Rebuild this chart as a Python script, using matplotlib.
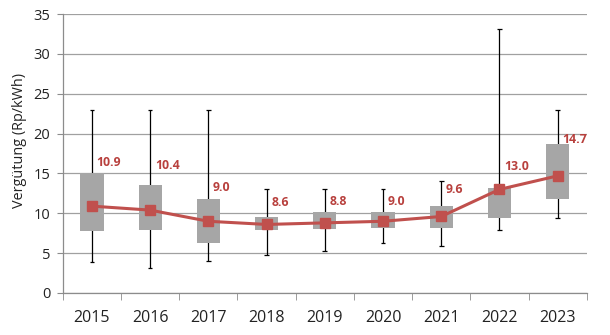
import numpy as np
import matplotlib
matplotlib.use('Agg')
import matplotlib.pyplot as plt
from matplotlib.ticker import FixedLocator, MultipleLocator

plt.rcParams['font.family'] = ['Open Sans', 'DejaVu Sans']

# %% data
years = ['2015', '2016', '2017', '2018', '2019', '2020', '2021', '2022', '2023']
whisk_lo = [3.9, 3.1, 4.0, 4.8, 5.3, 6.3, 5.9, 7.9, 9.4]
box_lo = [7.8, 7.9, 6.3, 7.95, 8.0, 8.1, 8.1, 9.4, 11.75]
box_hi = [15.0, 13.6, 11.75, 9.5, 10.15, 10.15, 10.9, 13.2, 18.65]
whisk_hi = [23.0, 23.0, 23.0, 13.1, 13.0, 13.0, 14.0, 33.1, 23.0]
median = [10.9, 10.4, 9.0, 8.6, 8.8, 9.0, 9.6, 13.0, 14.7]
label_y = [16.4, 16.0, 13.2, 11.3, 11.5, 11.5, 13.0, 15.85, 19.3]

red = '#c0504d'
box_col = '#a6a6a6'
axis_col = '#8c8c8c'

# %% plot
fig = plt.figure(figsize=(6.1, 3.35), dpi=100)
ax = fig.add_axes([0.103, 0.1254, 0.859, 0.8326])

x = np.arange(len(years))

# whiskers behind the boxes
ax.vlines(x, whisk_lo, whisk_hi, color='black', lw=0.9, zorder=2)
cap = 0.04
ax.hlines(whisk_lo, x - cap, x + cap, color='black', lw=0.9, zorder=2)
ax.hlines(whisk_hi, x - cap, x + cap, color='black', lw=0.9, zorder=2)

ax.bar(x, np.array(box_hi) - np.array(box_lo), bottom=box_lo, width=0.4,
       color=box_col, edgecolor='none', zorder=3)

ax.plot(x, median, '-s', color=red, lw=2.2, ms=6.5, zorder=4)
for xi, yi, m in zip(x, label_y, median):
    ax.text(xi + 0.08, yi, f'{m:.1f}', color='#b8403d', fontsize=8.8,
            fontweight='bold', ha='left', va='center', zorder=5)

ax.set_xlim(-0.5, len(years) - 0.5)
ax.set_ylim(0, 35)
ax.yaxis.set_major_locator(MultipleLocator(5))
ax.grid(axis='y', color='#a0a0a0', lw=0.9)
ax.set_axisbelow(True)

ax.set_xticks(x)
ax.set_xticklabels(years, fontsize=11.5)
ax.xaxis.set_minor_locator(FixedLocator(np.arange(-0.5, len(years), 1.0)))
ax.tick_params(axis='x', which='major', length=0, pad=12, colors='#222222')
ax.tick_params(axis='x', which='minor', length=5, color=axis_col, direction='out')
ax.tick_params(axis='y', length=4, color=axis_col, labelsize=10.5, pad=5,
               labelcolor='#222222')

for s in ['top', 'right']:
    ax.spines[s].set_visible(False)
for s in ['left', 'bottom']:
    ax.spines[s].set_color(axis_col)
    ax.spines[s].set_linewidth(0.9)

ax.set_ylabel('Vergütung (Rp/kWh)', fontsize=10.4, color='#222222')
ax.yaxis.set_label_coords(-0.068, 0.548)

fig.savefig('out.png', dpi=100)
